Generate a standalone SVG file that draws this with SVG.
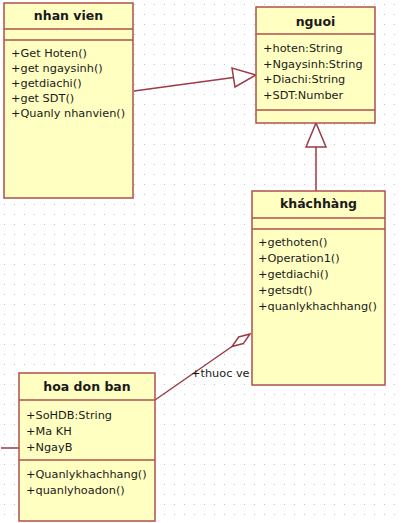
<svg xmlns="http://www.w3.org/2000/svg" width="403" height="523" viewBox="0 0 403 523">
<defs>
<pattern id="grid" width="10" height="10" patternUnits="userSpaceOnUse"><rect x="4" y="4" width="1" height="1" fill="#c4c4c4"/></pattern>
<style>
.box{fill:#ffffc2;stroke:#b0504c;stroke-width:1.5}
.div{stroke:#b0504c;stroke-width:1.5}
.title{font-family:"DejaVu Sans",sans-serif;font-size:12.5px;font-weight:bold;fill:#1a1a1a;text-anchor:middle}
.item{font-family:"DejaVu Sans",sans-serif;font-size:11.3px;fill:#1a1a1a}
.conn{stroke:#9c3a48;stroke-width:1.5;fill:none}
.head{fill:#fff;stroke:#9c3a48;stroke-width:1.5}
</style>
</defs>
<rect width="403" height="523" fill="#fff"/>
<rect width="403" height="523" fill="url(#grid)"/>
<g id="connectors">
  <line class="conn" x1="134" y1="91" x2="233.5" y2="77.5"/>
  <polygon class="head" points="256,75 232,68 235,87"/>
  <line class="conn" x1="316" y1="147" x2="316" y2="191"/>
  <polygon class="head" points="316,123 306,147 326,147"/>
  <line class="conn" x1="155" y1="400" x2="232" y2="346.5"/>
  <polygon class="head" points="250,334 238.7,337 232,346.5 243.3,343.6"/>
  <line class="conn" x1="1" y1="448" x2="19" y2="448"/>
  <text class="item" x="191" y="377">+thuoc ve</text>
</g>
<g id="nhanvien">
  <rect class="box" x="4" y="3" width="129" height="195"/>
  <line class="div" x1="4" y1="29" x2="133" y2="29"/>
  <line class="div" x1="4" y1="40" x2="133" y2="40"/>
  <text class="title" x="68.5" y="20">nhan vien</text>
  <text class="item" x="11" y="57">+Get Hoten()</text>
  <text class="item" x="11" y="72">+get ngaysinh()</text>
  <text class="item" x="11" y="87">+getdiachi()</text>
  <text class="item" x="11" y="102">+get SDT()</text>
  <text class="item" x="11" y="117">+Quanly nhanvien()</text>
</g>
<g id="nguoi">
  <rect class="box" x="256" y="7" width="119" height="116"/>
  <line class="div" x1="256" y1="34" x2="375" y2="34"/>
  <line class="div" x1="256" y1="110" x2="375" y2="110"/>
  <text class="title" x="315.5" y="26">nguoi</text>
  <text class="item" x="263" y="52">+hoten:String</text>
  <text class="item" x="263" y="67.5">+Ngaysinh:String</text>
  <text class="item" x="263" y="83">+Diachi:String</text>
  <text class="item" x="263" y="98.5">+SDT:Number</text>
</g>
<g id="khachhang">
  <rect class="box" x="252" y="191" width="133" height="194"/>
  <line class="div" x1="252" y1="218" x2="385" y2="218"/>
  <line class="div" x1="252" y1="229" x2="385" y2="229"/>
  <text class="title" x="318.5" y="208">kháchhàng</text>
  <text class="item" x="258" y="246">+gethoten()</text>
  <text class="item" x="258" y="262">+Operation1()</text>
  <text class="item" x="258" y="278">+getdiachi()</text>
  <text class="item" x="258" y="294">+getsdt()</text>
  <text class="item" x="258" y="310">+quanlykhachhang()</text>
</g>
<g id="hoadonban">
  <rect class="box" x="19" y="373" width="136" height="148"/>
  <line class="div" x1="19" y1="400" x2="155" y2="400"/>
  <line class="div" x1="19" y1="460" x2="155" y2="460"/>
  <text class="title" x="87" y="391">hoa don ban</text>
  <text class="item" x="26" y="419">+SoHDB:String</text>
  <text class="item" x="26" y="435">+Ma KH</text>
  <text class="item" x="26" y="451">+NgayB</text>
  <text class="item" x="26" y="478">+Quanlykhachhang()</text>
  <text class="item" x="26" y="494">+quanlyhoadon()</text>
</g>
</svg>
